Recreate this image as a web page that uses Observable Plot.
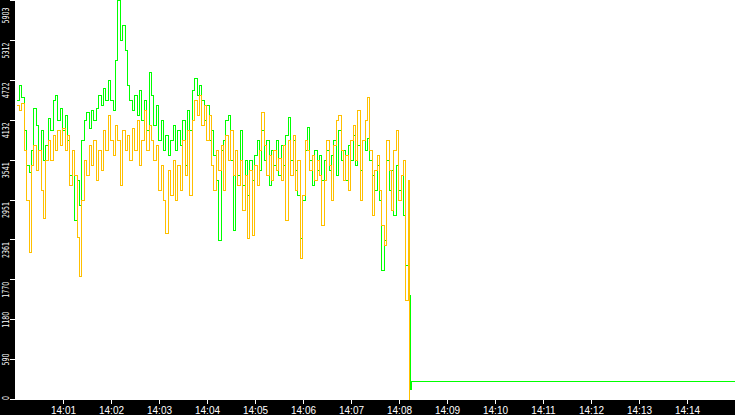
<!DOCTYPE html>
<html><head><meta charset="utf-8">
<script src="https://cdn.jsdelivr.net/npm/d3@7"></script>
<script src="https://cdn.jsdelivr.net/npm/@observablehq/plot@0.6"></script>
<style>html,body{margin:0;padding:0;background:#000;overflow:hidden} svg{display:block}</style>
</head><body><div id="chart"></div>
<script>
// sample timing of the main stretch (one reading every 3 s from 14:00:02)
const startTime = Date.UTC(2020, 0, 1, 14, 0, 2);
const stepSeconds = 3;

const greenValues = [
4424,4646,4468,3980,3462,3358,3684,4306,4054,3684,
3980,3536,3758,4158,3980,4424,4498,4128,4306,3980,
4202,3832,3314,3684,2648,3240,2870,3832,4128,4246,
4010,4276,4128,4306,4498,4350,4601,4424,4720,4424,
4276,5015,5903,5311,5533,5163,4646,4424,4276,4498,
4202,4572,4128,4424,3980,4838,4498,4054,4350,3832,
4128,3684,3906,3610,3832,4054,3684,3980,3758,4128,
3462,4276,3980,4572,4749,4498,4646,4424,4128,4350,
3832,3980,3610,3240,2352,3684,3832,4128,4202,3536,
2500,3684,3314,3980,3166,3536,3018,3536,3240,3610,
3832,3388,3980,3536,3832,3166,3684,3462,3832,3314,
3758,3462,3906,4173,3536,3832,3388,3018,2382,2944,
3684,4024,3536,3166,3684,3388,3610,3240,3536,3684,
3388,3610,3832,3314,3980,3536,3684,3240,3758,3536,
3906,3462,3758,3388,3832,3684,3861,3536,3314,3092,
3462,2944,1909,2352,3536,3092,3388,2722,3462,3092,
3314,2722,1983,1539];

const orangeValues = [
4350,4276,4380,3684,2944,2175,3462,3758,3388,3684,
3092,2678,3536,3832,3536,3906,3684,3980,3758,4010,
3684,3906,3166,3684,3314,2397,1820,2944,3536,3314,
3758,3462,3832,3240,3684,3388,3980,3684,4202,3832,
3610,4054,3832,3166,3980,3684,3906,3536,4010,3684,
4128,3462,3832,4276,3684,4054,3832,3536,3758,3092,
3462,2944,2456,3388,3018,3536,2944,3462,3092,3832,
3314,3980,3018,4128,4424,4202,4498,4054,4350,3832,
4202,3462,3092,3684,3388,3758,3092,3906,3536,3980,
3314,3684,3166,3536,2796,3314,2382,3388,2426,3462,
3166,3684,4246,3758,3314,3610,3240,3684,3388,3566,
3240,3758,2648,3832,3314,3906,3092,3536,2086,3018,
3832,3684,3388,3610,3240,3536,3314,2574,3240,3832,
3462,2944,3758,4128,4202,3684,3240,3610,3092,3832,
4054,3536,4276,2944,3832,4128,4468,3684,2722,3388,
3610,3092,2574,2278,3832,3388,2796,3684,3980,2944,
3314,3536,1465,3240];

const greenTailTimes = ["14:08:14", "14:08:15", "14:15:00"];
const greenTailValues = [148, 266, 266];
const orangeTailTimes = ["14:08:13"];
const orangeTailValues = [0];

const xTickLabels = ["14:01","14:02","14:03","14:04","14:05","14:06","14:07","14:08","14:09","14:10","14:11","14:12","14:13","14:14"];
const yTickValues = [0, 590, 1180, 1770, 2361, 2951, 3541, 4132, 4722, 5312, 5903];
const xDomain = ["14:00:00", "14:15:00"];

const parse = s => new Date("2020-01-01T" + (s.length === 5 ? s + ":00" : s) + "Z");
const mainTime = i => new Date(startTime + i * stepSeconds * 1000);

const greenData = greenValues.map((v, i) => ({t: mainTime(i), v}))
  .concat(greenTailTimes.map((s, i) => ({t: parse(s), v: greenTailValues[i]})));
const orangeData = orangeValues.map((v, i) => ({t: mainTime(i), v}))
  .concat(orangeTailTimes.map((s, i) => ({t: parse(s), v: orangeTailValues[i]})));

const yMid = yTickValues.filter(v => v >= 1770 && v < 5903);
const yLow = yTickValues.filter(v => v < 1770 && v > 0);
const yZero = yTickValues.filter(v => v === 0);
const yTop = yTickValues.filter(v => v === 5903);

const labelOpts = {frameAnchor: "left", dx: -10, rotate: -90, lineAnchor: "middle", fill: "white", fontSize: 9.5, fontFamily: "DejaVu Sans", text: d => String(d)};

const chart = Plot.plot({
  width: 735, height: 415,
  marginLeft: 15, marginRight: 0, marginTop: 0, marginBottom: 16,
  style: {background: "black", color: "white", fontFamily: "Liberation Sans", fontSize: "10px"},
  x: {type: "utc", domain: xDomain.map(parse), label: null},
  y: {domain: [0, 5903], label: null},
  marks: [
    Plot.frame({fill: "white", stroke: "none", insetTop: -1, insetRight: -1, insetLeft: -0.5, insetBottom: -0.5}),
    Plot.lineY(greenData, {x: "t", y: "v", stroke: "#00ff00", strokeWidth: 1, curve: "step-after", shapeRendering: "crispEdges"}),
    Plot.lineY(orangeData, {x: "t", y: "v", stroke: "#ffc000", strokeWidth: 1, curve: "step-after", shapeRendering: "crispEdges"}),
    Plot.axisX({ticks: xTickLabels.map(parse), tickFormat: d3.utcFormat("%H:%M"), tickSize: 5, tickPadding: 2, stroke: "white", fill: "white", fontSize: 10, fontFamily: "Liberation Sans"}),
    Plot.axisY({ticks: yTickValues, tickSize: 5, tickFormat: () => "", stroke: "white"}),
    Plot.text(yMid, {...labelOpts, y: d => d, textAnchor: "end", dy: 2}),
    Plot.text(yTop, {...labelOpts, y: d => d, textAnchor: "end", dy: 7}),
    Plot.text(yLow, {...labelOpts, y: d => d, textAnchor: "middle", dy: 0}),
    Plot.text(yZero, {...labelOpts, y: d => d, textAnchor: "middle", dy: -1.5})
  ]
});
document.getElementById("chart").appendChild(chart);
// crisp 1px strokes like the original raster chart
chart.querySelectorAll("path").forEach(p => p.setAttribute("shape-rendering", "crispEdges"));
// condense the rotated y labels to the narrow face of the original
chart.querySelectorAll("text").forEach(t => {
  const tr = t.getAttribute("transform") || "";
  if (tr.includes("rotate(-90")) {
    t.setAttribute("textLength", (t.textContent.length * 4.0).toFixed(1));
    t.setAttribute("lengthAdjust", "spacingAndGlyphs");
  }
});
</script>
</body></html>
